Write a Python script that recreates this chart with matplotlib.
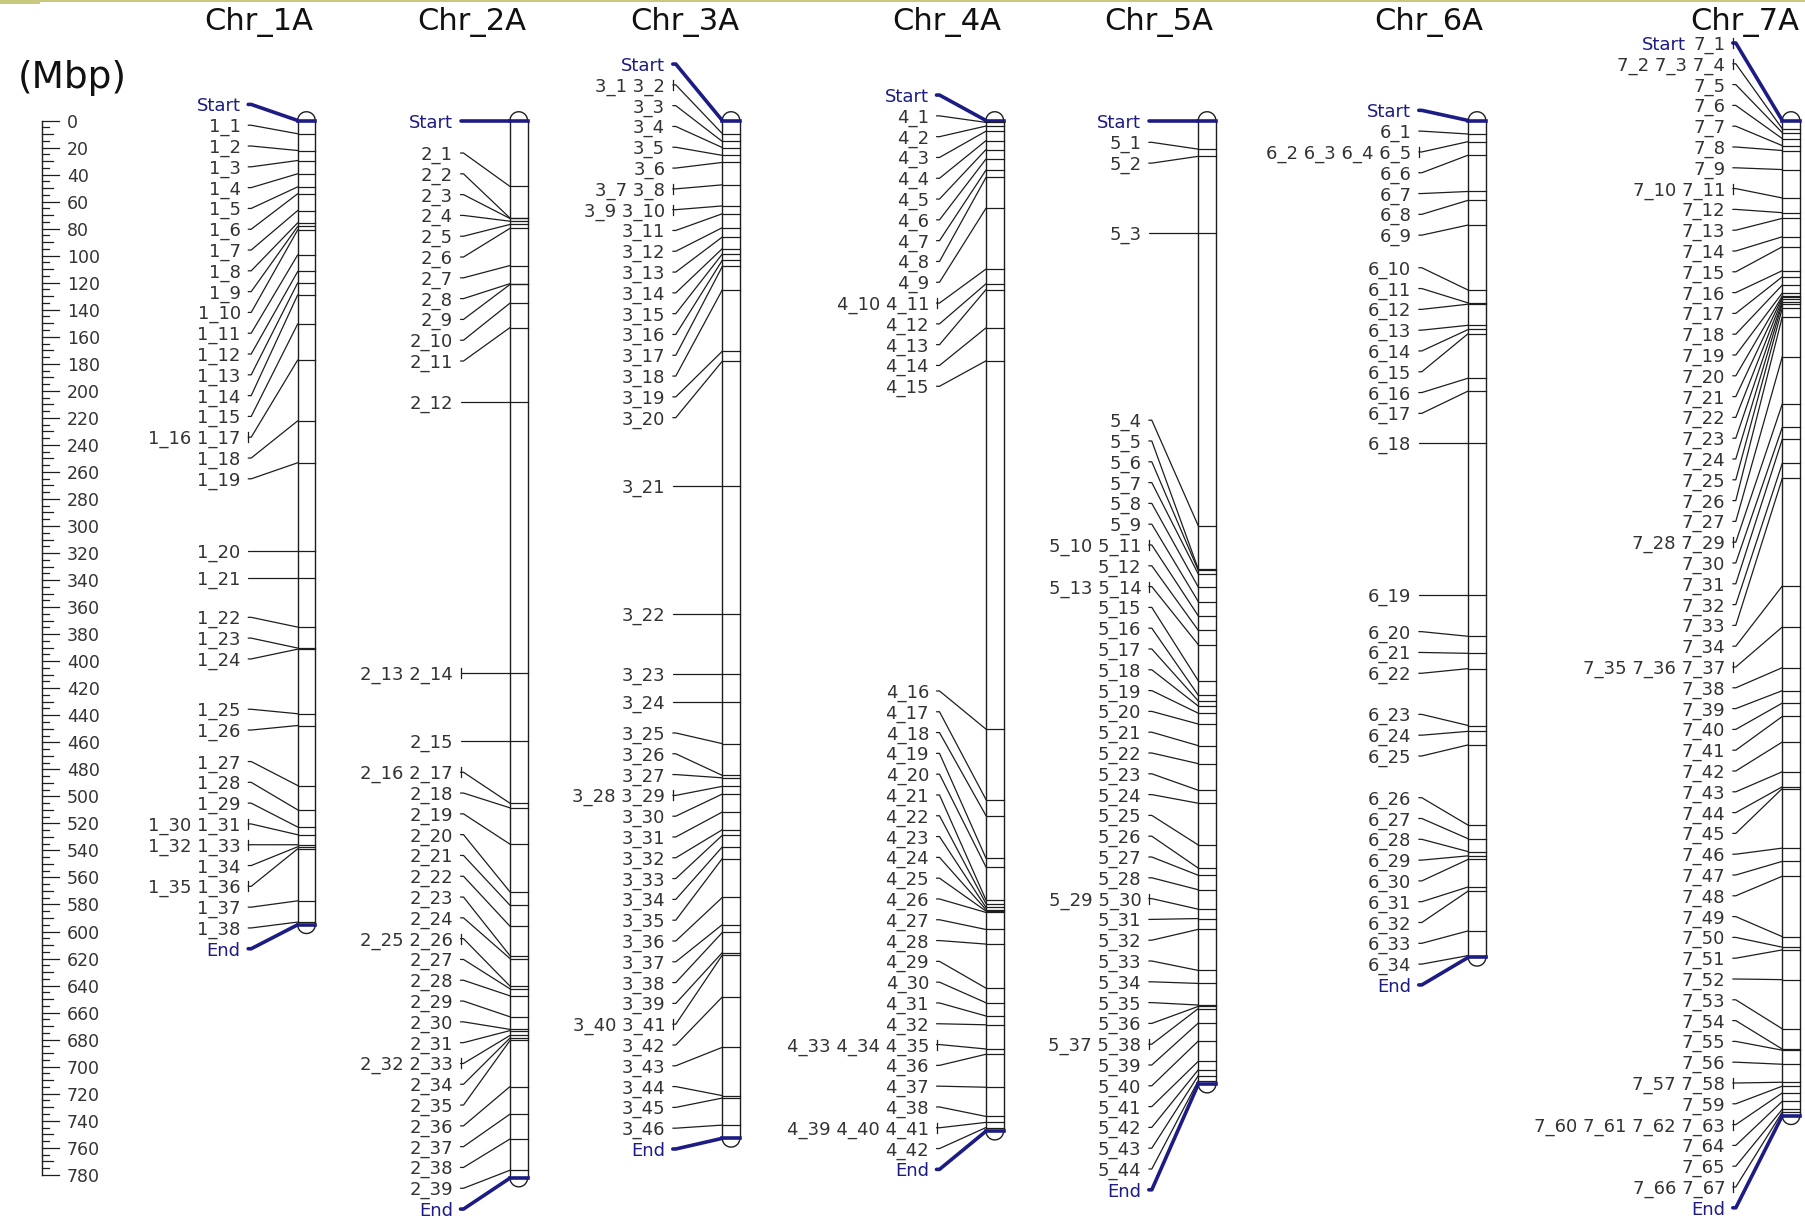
import numpy as np
import matplotlib.pyplot as plt

# ---- data (positions in Mbp) ----
chr_names = ['Chr_1A', 'Chr_2A', 'Chr_3A', 'Chr_4A', 'Chr_5A', 'Chr_6A', 'Chr_7A']
chr_lengths = [595.0, 782.4, 753.0, 747.7, 712.9, 619.1, 736.3]
start_tags = ['Start', 'Start', 'Start', 'Start', 'Start', 'Start', 'Start 7_1']

chr1_labels = ['1_1', '1_2', '1_3', '1_4', '1_5', '1_6', '1_7', '1_8', '1_9', '1_10',
               '1_11', '1_12', '1_13', '1_14', '1_15', '1_16 1_17', '1_18', '1_19',
               '1_20', '1_21', '1_22', '1_23', '1_24', '1_25', '1_26', '1_27', '1_28',
               '1_29', '1_30 1_31', '1_32 1_33', '1_34', '1_35 1_36', '1_37', '1_38']
chr1_pos = [9.8, 22.2, 29.6, 39.4, 49.1, 54.2, 66.6, 75.7, 78.4, 80.9,
            99.4, 111.7, 120.1, 129.0, 150.5, 177.2, 222.2, 253.2,
            318.4, 338.5, 374.8, 390.3, 391.1, 438.9, 447.6, 492.0, 510.0,
            522.7, 528.4, 535.8, 537.3, 538.8, 577.3, 593.0]

chr2_labels = ['2_1', '2_2', '2_3', '2_4', '2_5', '2_6', '2_7', '2_8', '2_9', '2_10',
               '2_11', '2_12', '2_13 2_14', '2_15', '2_16 2_17', '2_18', '2_19', '2_20',
               '2_21', '2_22', '2_23', '2_24', '2_25 2_26', '2_27', '2_28', '2_29',
               '2_30', '2_31', '2_32 2_33', '2_34', '2_35', '2_36', '2_37', '2_38', '2_39']
chr2_pos = [48.8, 72.2, 72.5, 74.5, 76.9, 79.8, 107.3, 120.7, 121.3, 135.1,
            153.2, 208.5, 408.5, 458.7, 505.1, 508.5, 535.4, 570.7,
            580.6, 596.1, 617.9, 620.0, 640.4, 642.4, 647.6, 663.1,
            672.4, 673.3, 676.9, 678.8, 680.6, 714.7, 735.1, 753.5, 776.6]

chr3_labels = ['3_1 3_2', '3_3', '3_4', '3_5', '3_6', '3_7 3_8', '3_9 3_10', '3_11',
               '3_12', '3_13', '3_14', '3_15', '3_16', '3_17', '3_18', '3_19', '3_20',
               '3_21', '3_22', '3_23', '3_24', '3_25', '3_26', '3_27', '3_28 3_29',
               '3_30', '3_31', '3_32', '3_33', '3_34', '3_35', '3_36', '3_37', '3_38',
               '3_39', '3_40 3_41', '3_42', '3_43', '3_44', '3_45', '3_46']
chr3_pos = [9.7, 15.5, 20.0, 25.8, 31.0, 47.6, 63.2, 69.0,
            79.3, 86.2, 94.8, 98.8, 103.4, 108.0, 125.3, 170.7, 178.1,
            270.1, 365.0, 409.8, 429.9, 461.0, 484.5, 486.3, 492.6,
            498.3, 511.6, 524.7, 528.8, 537.4, 546.0, 574.8, 594.9, 600.7,
            615.6, 617.4, 648.4, 685.7, 721.4, 723.2, 743.2]

chr4_labels = ['4_1', '4_2', '4_3', '4_4', '4_5', '4_6', '4_7', '4_8', '4_9',
               '4_10 4_11', '4_12', '4_13', '4_14', '4_15', '4_16', '4_17', '4_18',
               '4_19', '4_20', '4_21', '4_22', '4_23', '4_24', '4_25', '4_26', '4_27',
               '4_28', '4_29', '4_30', '4_31', '4_32', '4_33 4_34 4_35', '4_36',
               '4_37', '4_38', '4_39 4_40 4_41', '4_42']
chr4_pos = [1.4, 4.1, 7.9, 14.9, 21.5, 28.5, 36.7, 42.1, 64.9,
            109.9, 120.8, 125.1, 153.4, 177.8, 450.3, 502.4, 514.3,
            545.8, 552.3, 576.7, 579.4, 582.2, 583.8, 584.9, 585.9, 598.5,
            609.3, 641.9, 652.7, 662.5, 669.0, 686.9, 690.8,
            715.2, 736.8, 741.2, 745.0]

chr5_labels = ['5_1', '5_2', '5_3', '5_4', '5_5', '5_6', '5_7', '5_8', '5_9',
               '5_10 5_11', '5_12', '5_13 5_14', '5_15', '5_16', '5_17', '5_18',
               '5_19', '5_20', '5_21', '5_22', '5_23', '5_24', '5_25', '5_26', '5_27',
               '5_28', '5_29 5_30', '5_31', '5_32', '5_33', '5_34', '5_35', '5_36',
               '5_37 5_38', '5_39', '5_40', '5_41', '5_42', '5_43', '5_44']
chr5_pos = [21.2, 26.5, 83.5, 299.9, 331.9, 332.9, 335.6, 345.2, 355.9,
            366.5, 377.2, 387.8, 414.5, 425.2, 429.4, 433.2,
            438.5, 446.5, 462.5, 475.8, 495.5, 505.1, 536.0, 553.1, 558.4,
            569.1, 583.5, 590.4, 598.4, 628.8, 638.4, 654.4, 655.4,
            657.0, 667.7, 681.0, 696.0, 702.3, 706.6, 710.3]

chr6_labels = ['6_1', '6_2 6_3 6_4 6_5', '6_6', '6_7', '6_8', '6_9', '6_10', '6_11',
               '6_12', '6_13', '6_14', '6_15', '6_16', '6_17', '6_18', '6_19', '6_20',
               '6_21', '6_22', '6_23', '6_24', '6_25', '6_26', '6_27', '6_28', '6_29',
               '6_30', '6_31', '6_32', '6_33', '6_34']
chr6_pos = [10.0, 15.6, 25.6, 52.5, 59.0, 77.3, 125.5, 135.0,
            135.9, 151.5, 154.6, 157.6, 190.6, 200.1, 238.4, 350.8, 381.6,
            394.2, 405.5, 447.6, 451.9, 461.9, 521.4, 531.4, 540.9, 544.0,
            546.6, 567.0, 570.0, 599.5, 617.8]

chr7_labels = ['7_2 7_3 7_4', '7_5', '7_6', '7_7', '7_8', '7_9', '7_10 7_11', '7_12',
               '7_13', '7_14', '7_15', '7_16', '7_17', '7_18', '7_19', '7_20', '7_21',
               '7_22', '7_23', '7_24', '7_25', '7_26', '7_27', '7_28 7_29', '7_30',
               '7_31', '7_32', '7_33', '7_34', '7_35 7_36 7_37', '7_38', '7_39', '7_40',
               '7_41', '7_42', '7_43', '7_44', '7_45', '7_46', '7_47', '7_48', '7_49',
               '7_50', '7_51', '7_52', '7_53', '7_54', '7_55', '7_56', '7_57 7_58',
               '7_59', '7_60 7_61 7_62 7_63', '7_64', '7_65', '7_66 7_67']
chr7_pos = [6.1, 9.0, 13.4, 18.6, 22.2, 36.3, 57.3, 68.2,
            72.4, 86.0, 93.4, 111.1, 115.6, 121.7, 127.6, 129.8, 130.8,
            132.3, 134.1, 135.8, 138.9, 145.2, 174.7, 209.7, 227.0,
            235.8, 253.6, 264.7, 344.4, 374.7, 404.8, 421.8, 431.0,
            440.9, 459.8, 481.8, 492.9, 494.2, 538.3, 548.1, 559.1, 603.8,
            611.6, 613.6, 635.6, 672.0, 687.0, 687.8, 698.2, 711.5,
            714.4, 719.4, 725.6, 731.5, 733.5]

all_labels = [chr1_labels, chr2_labels, chr3_labels, chr4_labels,
              chr5_labels, chr6_labels, chr7_labels]
all_pos = [chr1_pos, chr2_pos, chr3_pos, chr4_pos, chr5_pos, chr6_pos, chr7_pos]

scale_max = 780

# ---- layout ----
W, H = 1805, 1218
Y0_PX = 120.5          # pixel row of 0 Mbp
PX_PER_MBP = 1.3517
bar_left = [297.7, 510.0, 722.3, 986.0, 1198.3, 1468.3, 1782.3]
title_x = [259, 472, 685, 947, 1159, 1429, 1745]
BAR_W = 17.5
ROW = 20.8 / PX_PER_MBP   # label row height in Mbp
LAB_FS = 13

TEXT = '#333333'
LINE = '#1e1e1e'
NAVY = '#1c1c84'


def mbp(px):
    return (px - Y0_PX) / PX_PER_MBP


def mm(px):
    return px / PX_PER_MBP


def spread(pos, gap, lim):
    # labels pushed apart bottom-up, each block centred on the span of its markers
    def top(g):
        return (pos[g[0]] + pos[g[-1]]) / 2 - gap * (len(g) - 1) / 2

    def end(g):
        return top(g) + gap * (len(g) - 1)

    groups = []          # lowest block first
    for i in reversed(range(len(pos))):
        groups.append([i])
        while len(groups) > 1:
            up, low = groups[-1], groups[-2]
            if top(low) - end(up) < gap - 1e-6:
                groups[-2:] = [up + low]
            else:
                break
    out = []
    for g in reversed(groups):
        t = top(g)
        out += [t + gap * j for j in range(len(g))]
    if out[0] < lim:
        shift = lim - out[0]
        out = [v + shift for v in out]
    return out


fig = plt.figure(figsize=(W / 100, H / 100), dpi=100)
ax = fig.add_axes([0, 0, 1, 1])
ax.set_xlim(0, W)
ax.set_ylim(mbp(H), mbp(0))
ax.axis('off')
renderer = fig.canvas.get_renderer()

# top border of the slide
ax.plot([0, W], [mbp(1)] * 2, color='#c8c87e', lw=1.5)
ax.fill_between([0, 40], mbp(0), mbp(4), color='#c8c87e', lw=0)

# ---- ruler ----
rx = 41.7
ax.plot([rx, rx], [0, scale_max], color=LINE, lw=1.0)
for v in range(0, scale_max + 1, 5):
    if v % 20 == 0:
        ln = 17.5
        ax.text(rx + 25, v + mm(2), str(v), ha='left', va='center', fontsize=12.5, color=TEXT)
    elif v % 10 == 0:
        ln = 11
    else:
        ln = 7
    ax.plot([rx, rx + ln], [v, v], color=LINE, lw=0.9)
ax.text(72, mbp(78), '(Mbp)', ha='center', va='center', fontsize=27, color='#111111')

# ---- chromosomes ----
for name, length, tag, labels, pos, bl, tx in zip(chr_names, chr_lengths, start_tags,
                                                   all_labels, all_pos, bar_left, title_x):
    ax.text(tx, mbp(22), name, ha='center', va='center', fontsize=22, color='#111111')
    br = bl + BAR_W
    cx = bl + BAR_W / 2
    r = BAR_W / 2
    t = np.linspace(0, np.pi, 40)
    ax.plot([bl, bl], [0, length], color=LINE, lw=1.0)
    ax.plot([br, br], [0, length], color=LINE, lw=1.0)
    ax.plot(cx + r * np.cos(t), -mm(r) * np.sin(t), color=LINE, lw=1.0)
    ax.plot(cx + r * np.cos(t), length + mm(r) * np.sin(t), color=LINE, lw=1.0)

    rows = [tag] + labels + ['End']
    marks = [0.0] + pos + [length]
    lab_y = spread(marks, ROW, mbp(43))
    xr = bl - 57
    xc = bl - 49.5
    for i, (txt, m, ly) in enumerate(zip(rows, marks, lab_y)):
        special = i == 0 or i == len(rows) - 1
        col = NAVY if special else LINE
        lw = 2.6 if special else 0.9
        ax.plot([xc, xc + 3, bl], [ly, ly, m], color=col, lw=lw,
                solid_capstyle='round', solid_joinstyle='round')
        ax.plot([bl, br], [m, m], color=col, lw=lw if special else 0.9)
        parts = txt.split(' ')
        if len(parts) > 1:
            ax.plot([xc, xc], [ly - mm(5), ly + mm(5)], color=LINE, lw=0.9)
        ty = ly + mm(2)
        if parts[0] in ('Start', 'End'):
            if len(parts) > 1:
                rest = ' '.join(parts[1:])
                tt = ax.text(xr, ty, rest, ha='right', va='center', fontsize=LAB_FS, color=TEXT)
                wpx = tt.get_window_extent(renderer=renderer).width
                ax.text(xr - wpx - 7, ty, parts[0], ha='right', va='center',
                        fontsize=LAB_FS, color=NAVY)
            else:
                ax.text(xr, ty, txt, ha='right', va='center', fontsize=LAB_FS, color=NAVY)
        else:
            ax.text(xr, ty, txt, ha='right', va='center', fontsize=LAB_FS, color=TEXT)

fig.savefig('out.png', dpi=100, facecolor='white')
